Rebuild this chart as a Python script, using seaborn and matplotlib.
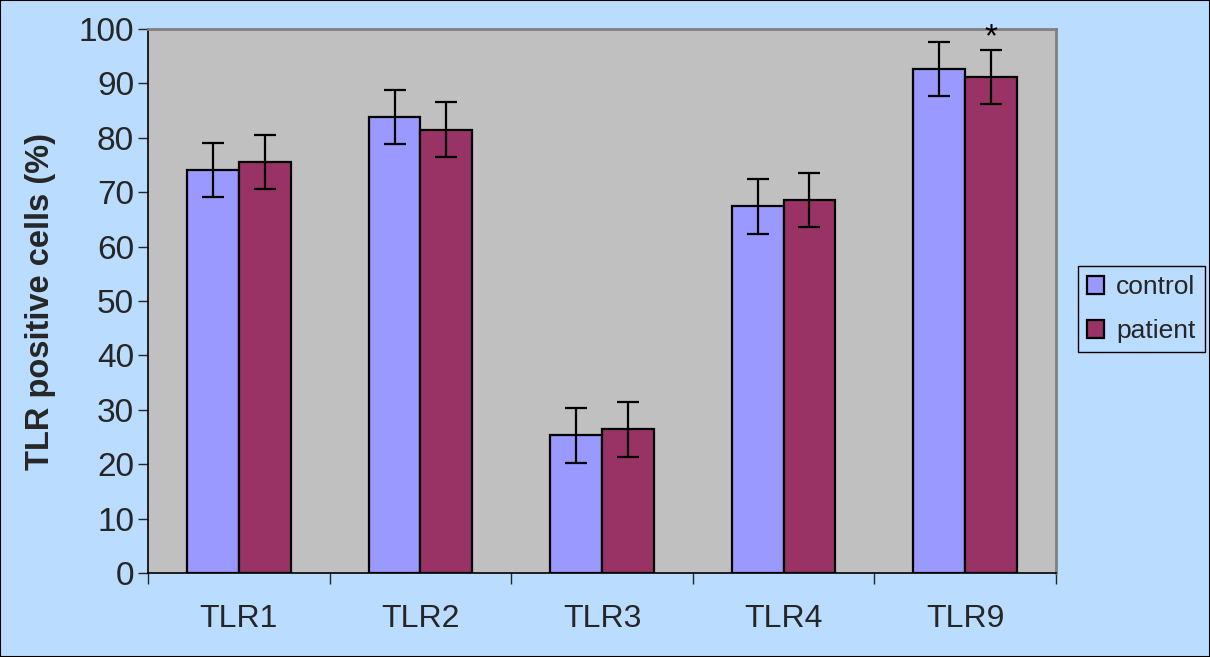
import matplotlib
matplotlib.use('Agg')
import matplotlib.pyplot as plt
import seaborn as sns
import pandas as pd
import numpy as np

# data
receptors = ['TLR1', 'TLR2', 'TLR3', 'TLR4', 'TLR9']
control = [74.1, 83.8, 25.3, 67.4, 92.7]
patient = [75.6, 81.5, 26.4, 68.6, 91.2]
control_err = [5, 5, 5, 5, 5]
patient_err = [5, 5, 5, 5, 5]
groups = ['control', 'patient']

df = pd.DataFrame({
    'receptor': receptors * 2,
    'group': ['control'] * 5 + ['patient'] * 5,
    'value': control + patient,
})

fig_bg = '#B9DCFF'
palette = {'control': '#9999FF', 'patient': '#993366'}

sns.set_style('white')
plt.rcParams['font.family'] = ['Liberation Sans', 'DejaVu Sans']

fig = plt.figure(figsize=(12.1, 6.57), dpi=100, facecolor=fig_bg)
ax = fig.add_axes([148 / 1210, 1 - 573 / 657, 908 / 1210, 544 / 657])
ax.set_facecolor('#C0C0C0')

group_width = 0.57
sns.barplot(data=df, x='receptor', y='value', hue='group', hue_order=groups,
            order=receptors, palette=palette, width=group_width, errorbar=None,
            edgecolor='black', linewidth=1.6, saturation=1, ax=ax)

# error bars at the bar centres
bw = group_width / 2
x = np.arange(len(receptors))
ax.errorbar(x - bw / 2, control, yerr=control_err, fmt='none', ecolor='black',
            elinewidth=1.6, capsize=8, capthick=1.6, zorder=5)
ax.errorbar(x + bw / 2, patient, yerr=patient_err, fmt='none', ecolor='black',
            elinewidth=1.6, capsize=8, capthick=1.6, zorder=5)

# significance mark on TLR9 patient
ax.text(4 + bw / 2, patient[4] + patient_err[4] - 0.6, '*', ha='center', va='bottom',
        fontsize=24, color='black')

ax.set_xlim(-0.5, len(receptors) - 0.5)
ax.set_ylim(0, 100)
ax.set_yticks(range(0, 101, 10))
ax.tick_params(axis='y', labelsize=24, length=7, width=1, direction='out', pad=3, left=True)

# category labels between boundary ticks
ax.set_xticks(np.arange(-0.5, len(receptors), 1))
ax.set_xticklabels([])
ax.set_xticks(x, minor=True)
ax.set_xticklabels(receptors, minor=True, fontsize=23)
ax.tick_params(axis='x', which='major', length=8, width=1, direction='out', bottom=True)
ax.tick_params(axis='x', which='minor', length=0, pad=22)

ax.set_xlabel('')
ax.set_ylabel('TLR positive cells (%)', fontsize=23.5, fontweight='bold', labelpad=16)

for side in ['left', 'bottom']:
    ax.spines[side].set_color('black')
    ax.spines[side].set_linewidth(1.2)
for side in ['top', 'right']:
    ax.spines[side].set_visible(True)
    ax.spines[side].set_color('#808080')
    ax.spines[side].set_linewidth(2)

leg = ax.legend(loc='center left', bbox_to_anchor=(1.024, 0.485), fontsize=19,
                frameon=True, fancybox=False, edgecolor='black', facecolor=fig_bg,
                framealpha=1, handlelength=0.65, handleheight=0.65, handletextpad=0.45,
                labelspacing=0.75, borderpad=0.35, borderaxespad=0, title=None)
leg.get_frame().set_linewidth(1)

# outer figure border
fig.patches.append(plt.Rectangle((0, 0), 1, 1, transform=fig.transFigure, fill=False,
                                 edgecolor='black', linewidth=1.5))

fig.savefig('out.png', dpi=100, facecolor=fig_bg)
